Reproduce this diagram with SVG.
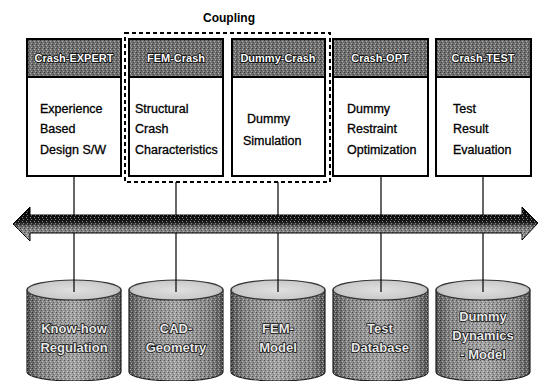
<svg xmlns="http://www.w3.org/2000/svg" width="541" height="381" viewBox="0 0 541 381">
  <defs>
    <!-- dithered texture used on headers, cylinders and the bus -->
    <pattern id="dither" width="4" height="4" patternUnits="userSpaceOnUse">
      <rect x="0" y="0" width="1" height="1" fill="#000" fill-opacity="0.45"/>
      <rect x="2" y="1" width="1" height="1" fill="#fff" fill-opacity="0.5"/>
      <rect x="1" y="2" width="1" height="1" fill="#000" fill-opacity="0.3"/>
      <rect x="3" y="3" width="1" height="1" fill="#fff" fill-opacity="0.4"/>
    </pattern>
    <linearGradient id="cylBody" x1="0" y1="0" x2="1" y2="0">
      <stop offset="0" stop-color="#555"/>
      <stop offset="0.15" stop-color="#858585"/>
      <stop offset="0.5" stop-color="#a2a2a2"/>
      <stop offset="0.85" stop-color="#858585"/>
      <stop offset="1" stop-color="#555"/>
    </linearGradient>
    <radialGradient id="cylTop" cx="0.5" cy="0.5" r="0.6">
      <stop offset="0" stop-color="#e0e0e0"/>
      <stop offset="0.75" stop-color="#cacaca"/>
      <stop offset="1" stop-color="#909090"/>
    </radialGradient>
    <linearGradient id="busFill" x1="0" y1="0" x2="0" y2="1">
      <stop offset="0" stop-color="#000"/>
      <stop offset="0.45" stop-color="#1a1a1a"/>
      <stop offset="0.6" stop-color="#777"/>
      <stop offset="1" stop-color="#a8a8a8"/>
    </linearGradient>
    <style>
      .box { fill: #fff; stroke: #000; stroke-width: 2; }
      .head { fill: #6e6e6e; stroke: #000; stroke-width: 2; }
      .tex { fill: url(#dither); }
      .htxt { font-family: "Liberation Sans", Arial, sans-serif; font-size: 11px; font-weight: bold; fill: #fff; stroke: #000; stroke-width: 1.6; paint-order: stroke; text-anchor: middle; }
      .btxt { font-family: "Liberation Sans", Arial, sans-serif; font-size: 12.5px; fill: #000; stroke: #000; stroke-width: 0.3; }
      .ctxt { font-family: "Liberation Sans", Arial, sans-serif; font-size: 13px; font-weight: bold; fill: #e8e8e8; stroke: #111; stroke-width: 1.6; paint-order: stroke; text-anchor: middle; }
      .cylb { fill: url(#cylBody); stroke: #222; stroke-width: 1.2; }
      .cylt { fill: url(#cylTop); stroke: #333; stroke-width: 1.2; }
      .link { stroke: #000; stroke-width: 1.2; fill: none; }
      .group { fill: none; stroke: #000; stroke-width: 2; stroke-dasharray: 4 3; }
      .title { font-family: "Liberation Sans", Arial, sans-serif; font-size: 12px; font-weight: bold; fill: #000; text-anchor: middle; }
    </style>
  </defs>

  <rect width="541" height="381" fill="#fff"/>

  <!-- coupled tools -->
  <text class="title" x="229" y="22">Coupling</text>
  <rect class="group" x="125" y="33" width="205" height="149"/>

  <!-- tool modules -->
  <g id="crash-expert">
    <rect class="box" x="27" y="39" width="94" height="137"/>
    <rect class="head" x="27" y="39" width="94" height="38"/>
    <rect class="tex" x="28" y="40" width="92" height="36"/>
    <text class="htxt" x="74" y="62">Crash-EXPERT</text>
    <text class="btxt" x="40" y="113">Experience</text>
    <text class="btxt" x="40" y="133">Based</text>
    <text class="btxt" x="40" y="154">Design S/W</text>
  </g>
  <g id="fem-crash">
    <rect class="box" x="129" y="39" width="94" height="137"/>
    <rect class="head" x="129" y="39" width="94" height="38"/>
    <rect class="tex" x="130" y="40" width="92" height="36"/>
    <text class="htxt" x="176" y="62">FEM-Crash</text>
    <text class="btxt" x="135" y="113">Structural</text>
    <text class="btxt" x="135" y="133">Crash</text>
    <text class="btxt" x="135" y="154">Characteristics</text>
  </g>
  <g id="dummy-crash">
    <rect class="box" x="232" y="39" width="93" height="137"/>
    <rect class="head" x="232" y="39" width="93" height="38"/>
    <rect class="tex" x="233" y="40" width="91" height="36"/>
    <text class="htxt" x="278" y="62">Dummy-Crash</text>
    <text class="btxt" x="247" y="123">Dummy</text>
    <text class="btxt" x="243" y="145">Simulation</text>
  </g>
  <g id="crash-opt">
    <rect class="box" x="333" y="39" width="95" height="137"/>
    <rect class="head" x="333" y="39" width="95" height="38"/>
    <rect class="tex" x="334" y="40" width="93" height="36"/>
    <text class="htxt" x="380" y="62">Crash-OPT</text>
    <text class="btxt" x="347" y="113">Dummy</text>
    <text class="btxt" x="347" y="133">Restraint</text>
    <text class="btxt" x="347" y="154">Optimization</text>
  </g>
  <g id="crash-test">
    <rect class="box" x="436" y="39" width="95" height="137"/>
    <rect class="head" x="436" y="39" width="95" height="38"/>
    <rect class="tex" x="437" y="40" width="93" height="36"/>
    <text class="htxt" x="483" y="62">Crash-TEST</text>
    <text class="btxt" x="453" y="113">Test</text>
    <text class="btxt" x="453" y="133">Result</text>
    <text class="btxt" x="453" y="154">Evaluation</text>
  </g>

  <!-- data stores -->
  <g id="knowhow-db">
    <path class="cylb" d="M27,290 L27,372 A47,9 0 0 0 121,372 L121,290 Z"/>
    <path class="tex" d="M27,290 L27,372 A47,9 0 0 0 121,372 L121,290 Z"/>
    <ellipse class="cylt" cx="74" cy="290" rx="47" ry="10"/>
    <text class="ctxt" x="74" y="333">Know-how</text>
    <text class="ctxt" x="74" y="352">Regulation</text>
  </g>
  <g id="cad-db">
    <path class="cylb" d="M129,290 L129,372 A47,9 0 0 0 223,372 L223,290 Z"/>
    <path class="tex" d="M129,290 L129,372 A47,9 0 0 0 223,372 L223,290 Z"/>
    <ellipse class="cylt" cx="176" cy="290" rx="47" ry="10"/>
    <text class="ctxt" x="176" y="333">CAD-</text>
    <text class="ctxt" x="176" y="352">Geometry</text>
  </g>
  <g id="fem-db">
    <path class="cylb" d="M231,290 L231,372 A47,9 0 0 0 325,372 L325,290 Z"/>
    <path class="tex" d="M231,290 L231,372 A47,9 0 0 0 325,372 L325,290 Z"/>
    <ellipse class="cylt" cx="278" cy="290" rx="47" ry="10"/>
    <text class="ctxt" x="278" y="333">FEM-</text>
    <text class="ctxt" x="278" y="352">Model</text>
  </g>
  <g id="test-db">
    <path class="cylb" d="M333,290 L333,372 A47,9 0 0 0 428,372 L428,290 Z"/>
    <path class="tex" d="M333,290 L333,372 A47,9 0 0 0 428,372 L428,290 Z"/>
    <ellipse class="cylt" cx="380.5" cy="290" rx="47.5" ry="10"/>
    <text class="ctxt" x="380" y="333">Test</text>
    <text class="ctxt" x="380" y="352">Database</text>
  </g>
  <g id="dummy-db">
    <path class="cylb" d="M436,290 L436,372 A47,9 0 0 0 530,372 L530,290 Z"/>
    <path class="tex" d="M436,290 L436,372 A47,9 0 0 0 530,372 L530,290 Z"/>
    <ellipse class="cylt" cx="483" cy="290" rx="47" ry="10"/>
    <text class="ctxt" x="483" y="321">Dummy</text>
    <text class="ctxt" x="483" y="340">Dynamics</text>
    <text class="ctxt" x="483" y="359">- Model</text>
  </g>

  <!-- links from modules through the bus to the stores -->
  <g id="connectors">
    <line class="link" x1="74" y1="176" x2="74" y2="292"/>
    <line class="link" x1="176" y1="182" x2="176" y2="292"/>
    <line class="link" x1="278" y1="182" x2="278" y2="292"/>
    <line class="link" x1="381" y1="176" x2="381" y2="292"/>
    <line class="link" x1="483" y1="176" x2="483" y2="292"/>
  </g>

  <!-- double-headed data bus -->
  <g id="bus">
    <polygon points="13,224 30,207 30,215 522,215 522,207 538,223 522,240 522,233 30,233 30,241" fill="url(#busFill)" stroke="#000" stroke-width="1"/>
    <polygon class="tex" points="13,224 30,207 30,215 522,215 522,207 538,223 522,240 522,233 30,233 30,241"/>
  </g>
</svg>
